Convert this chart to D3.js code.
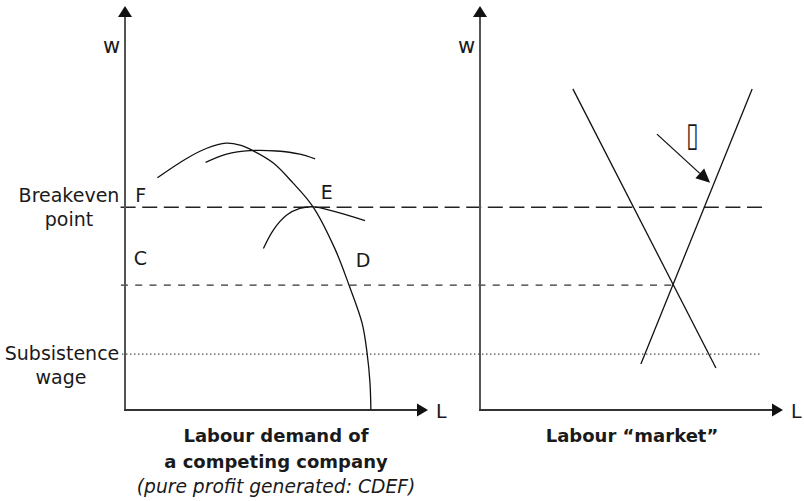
<!DOCTYPE html>
<html>
<head>
<meta charset="utf-8">
<script src="https://cdn.jsdelivr.net/npm/d3@7"></script>
<style>
  body { margin: 0; background: #fff; }
  svg { display: block; }
  text { font-family: "DejaVu Sans", sans-serif; fill: #1a1a1a; }
</style>
</head>
<body>
<svg id="chart" width="804" height="501"></svg>
<script>
// wage levels (w units)
var breakeven_w = 5.16;
var low_w = 3.18;
var subsistence_w = 1.42;

// left panel curves, [L, w]
var demand_curve = [[1.11, 5.91], [2.11, 6.40], [2.80, 6.66], [3.46, 6.79], [3.94, 6.74],
  [4.38, 6.60], [5.07, 6.29], [5.75, 5.78], [6.44, 5.17], [7.19, 4.10], [7.67, 3.18],
  [8.12, 2.21], [8.29, 1.45], [8.39, 0.69], [8.42, 0]];
var flat_curve = [[2.76, 6.30], [3.48, 6.51], [4.28, 6.60], [5.20, 6.59], [5.99, 6.51], [6.51, 6.39]];
var low_curve = [[4.74, 4.11], [5.08, 4.58], [5.54, 4.96], [5.99, 5.13], [6.45, 5.17],
  [7.13, 5.06], [8.22, 4.82]];

// right panel lines, [L, w]
var market_demand = [[3.18, 8.17], [8.08, 1.07]];
var market_supply = [[9.32, 8.17], [5.51, 1.17]];
var shift_arrow = [[6.06, 7.02], [7.88, 5.78]];

var point_labels = ["F", "E", "C", "D"];
var point_pos = [[0.35, 5.30], [6.7, 5.36], [0.3, 3.68], [7.9, 3.63]];

var title_left = ["Labour demand of", "a competing company"];
var subtitle_left = "(pure profit generated: CDEF)";
var title_right = "Labour \u201cmarket\u201d";

var svg = d3.select("#chart");

var yScale = d3.scaleLinear().domain([0, 10]).range([410, 17]);
var xLeft = d3.scaleLinear().domain([0, 10]).range([125, 417]);
var xRight = d3.scaleLinear().domain([0, 10]).range([480, 772]);

// horizontal guide lines (start in left panel, end in right panel)
svg.append("line")
  .attr("x1", xLeft(-0.15)).attr("x2", xRight(9.83))
  .attr("y1", yScale(breakeven_w)).attr("y2", yScale(breakeven_w))
  .attr("stroke", "#222").attr("stroke-width", 1.4)
  .attr("stroke-dasharray", "15,6.6");

svg.append("line")
  .attr("x1", xLeft(-0.14)).attr("x2", xRight(6.61))
  .attr("y1", yScale(low_w)).attr("y2", yScale(low_w))
  .attr("stroke", "#333").attr("stroke-width", 1.3)
  .attr("stroke-dasharray", "7,7.3");

svg.append("line")
  .attr("x1", xLeft(-0.1)).attr("x2", xRight(9.59))
  .attr("y1", yScale(subsistence_w)).attr("y2", yScale(subsistence_w))
  .attr("stroke", "#333").attr("stroke-width", 1.2)
  .attr("stroke-dasharray", "1.3,2.7");

// axes
function drawAxes(xs, xLabelX) {
  var x0 = xs(0), y0 = yScale(0);
  svg.append("line")
    .attr("x1", x0).attr("x2", x0).attr("y1", y0 + 1).attr("y2", yScale(10))
    .attr("stroke", "#555").attr("stroke-width", 2);
  svg.append("line")
    .attr("x1", x0 - 1).attr("x2", xs(10)).attr("y1", y0).attr("y2", y0)
    .attr("stroke", "#333").attr("stroke-width", 2);
  svg.append("path")
    .attr("d", "M" + x0 + "," + (yScale(10) - 11) + "L" + (x0 - 7) + "," + yScale(10) +
      "L" + (x0 + 7) + "," + yScale(10) + "Z")
    .attr("fill", "#111");
  svg.append("path")
    .attr("d", "M" + (xs(10) + 11) + "," + y0 + "L" + xs(10) + "," + (y0 - 6.5) +
      "L" + xs(10) + "," + (y0 + 6.5) + "Z")
    .attr("fill", "#111");
  svg.append("text")
    .attr("x", x0 - 22).attr("y", 53)
    .style("font-size", "21px")
    .text("w");
  svg.append("text")
    .attr("x", xLabelX).attr("y", 418)
    .style("font-size", "19px")
    .text("L");
}
drawAxes(xLeft, 436);
drawAxes(xRight, 791);

var lineLeft = d3.line()
  .x(function(d) { return xLeft(d[0]); })
  .y(function(d) { return yScale(d[1]); })
  .curve(d3.curveCatmullRom);

var lineRight = d3.line()
  .x(function(d) { return xRight(d[0]); })
  .y(function(d) { return yScale(d[1]); });

[demand_curve, flat_curve, low_curve].forEach(function(c) {
  svg.append("path")
    .attr("d", lineLeft(c))
    .attr("fill", "none")
    .attr("stroke", "#111")
    .attr("stroke-width", 1.3);
});

[market_demand, market_supply].forEach(function(c) {
  svg.append("path")
    .attr("d", lineRight(c))
    .attr("fill", "none")
    .attr("stroke", "#111")
    .attr("stroke-width", 1.3);
});

// shift arrow
var ax1 = xRight(shift_arrow[0][0]), ay1 = yScale(shift_arrow[0][1]);
var ax2 = xRight(shift_arrow[1][0]), ay2 = yScale(shift_arrow[1][1]);
var ang = Math.atan2(ay2 - ay1, ax2 - ax1);
var headLen = 14, headW = 6.5;
var bx = ax2 - headLen * Math.cos(ang), by = ay2 - headLen * Math.sin(ang);
svg.append("line")
  .attr("x1", ax1).attr("y1", ay1).attr("x2", bx).attr("y2", by)
  .attr("stroke", "#111").attr("stroke-width", 1.3);
svg.append("path")
  .attr("d", "M" + ax2 + "," + ay2 +
    "L" + (bx + headW * Math.sin(ang)) + "," + (by - headW * Math.cos(ang)) +
    "L" + (bx - headW * Math.sin(ang)) + "," + (by + headW * Math.cos(ang)) + "Z")
  .attr("fill", "#111");

svg.append("text")
  .attr("transform", "translate(" + xRight(7.06) + ",146) scale(0.65,1)")
  .style("font-size", "34px")
  .text("\u25AF");

// point labels
svg.selectAll(".pt-label")
  .data(point_labels)
  .enter()
  .append("text")
  .attr("class", "pt-label")
  .attr("x", function(d, i) { return xLeft(point_pos[i][0]); })
  .attr("y", function(d, i) { return yScale(point_pos[i][1]); })
  .style("font-size", "19px")
  .text(function(d) { return d; });

// level labels
var levelLabels = [["Breakeven", 202, 69], ["point", 226, 69], ["Subsistence", 360, 62], ["wage", 384, 61]];
svg.selectAll(".lvl-label")
  .data(levelLabels)
  .enter()
  .append("text")
  .attr("class", "lvl-label")
  .attr("x", function(d) { return d[2]; })
  .attr("y", function(d) { return d[1]; })
  .attr("text-anchor", "middle")
  .style("font-size", "19px")
  .text(function(d) { return d[0]; });

// titles
svg.selectAll(".title-left")
  .data(title_left)
  .enter()
  .append("text")
  .attr("class", "title-left")
  .attr("x", 276)
  .attr("y", function(d, i) { return 442 + i * 26; })
  .attr("text-anchor", "middle")
  .style("font-size", "18px")
  .style("font-weight", "bold")
  .text(function(d) { return d; });

svg.append("text")
  .attr("x", 276).attr("y", 493)
  .attr("text-anchor", "middle")
  .style("font-size", "18.7px")
  .style("font-style", "italic")
  .text(subtitle_left);

svg.append("text")
  .attr("x", 632).attr("y", 442)
  .attr("text-anchor", "middle")
  .style("font-size", "18px")
  .style("font-weight", "bold")
  .text(title_right);
</script>
</body>
</html>
